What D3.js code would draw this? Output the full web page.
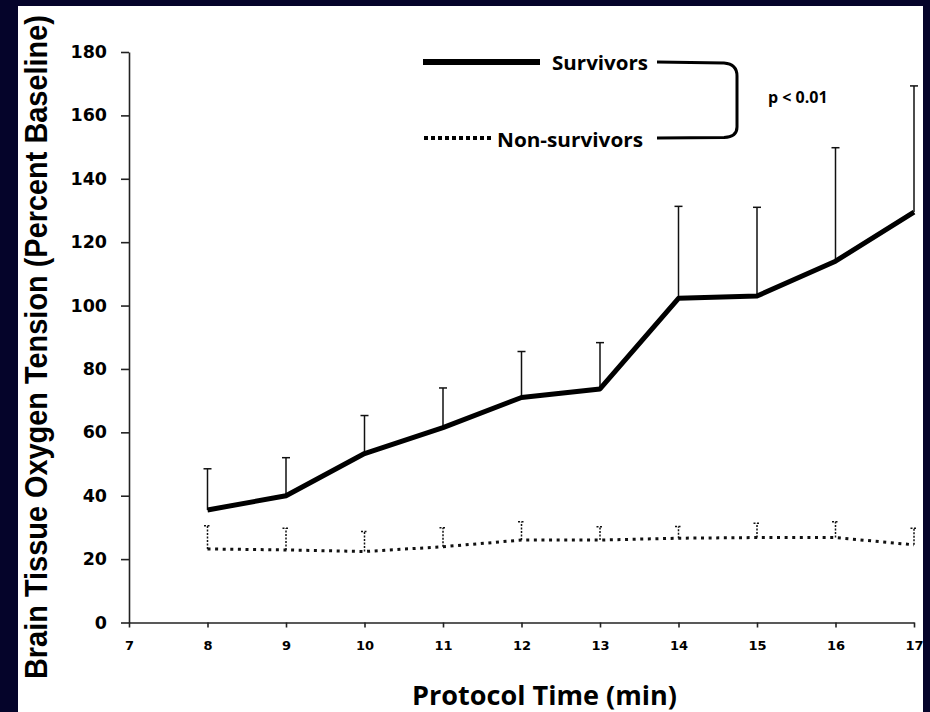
<!DOCTYPE html>
<html lang="en">
<head>
<meta charset="utf-8" />
<title>Brain Tissue Oxygen Tension</title>
<script src="https://cdn.jsdelivr.net/npm/d3@7"></script>
<style>
    body { margin: 0; background: #05042a; }
    svg { display: block; }
    .tick text { fill: #000; }
</style>
</head>
<body>
<svg id="canvas" width="930" height="712"></svg>
<script>
    // values
    var minutes = [8, 9, 10, 11, 12, 13, 14, 15, 16, 17];
    var survivors = [35.5, 40, 53.3, 61.5, 71, 73.7, 102.3, 103, 114, 129.5];
    var survivorsSD = [13, 12, 12, 12.5, 14.5, 14.6, 29, 28, 35.8, 39.8];
    var nonSurvivors = [23.2, 22.9, 22.4, 23.9, 26, 26, 26.6, 26.8, 26.8, 24.5];
    var nonSurvivorsSD = [7.3, 6.8, 6.3, 6, 5.8, 4.2, 3.7, 4.5, 5, 5.2];
    var xTicks = [7, 8, 9, 10, 11, 12, 13, 14, 15, 16, 17];
    var yTicks = [0, 20, 40, 60, 80, 100, 120, 140, 160, 180];

    var svg = d3.select("#canvas");

    // white panel on navy background
    svg.append("rect")
        .attr("x", 18).attr("y", 6)
        .attr("width", 905).attr("height", 706)
        .attr("fill", "#fff");

    var x = d3.scaleLinear().domain([7, 17]).range([129, 914]),
        y = d3.scaleLinear().domain([0, 180]).range([622.5, 52]);

    var surv = minutes.map(function (m, i) { return { m: m, v: survivors[i], sd: survivorsSD[i] }; });
    var non = minutes.map(function (m, i) { return { m: m, v: nonSurvivors[i], sd: nonSurvivorsSD[i] }; });

    // axes
    var yAxis = svg.append("g")
        .attr("transform", "translate(" + x(7) + ",0)")
        .call(d3.axisLeft(y).tickValues(yTicks).tickSize(8).tickSizeOuter(0).tickPadding(14));
    yAxis.selectAll("text")
        .style("font-family", "DejaVu Sans")
        .style("font-weight", "bold")
        .style("font-size", "17.5px");

    var xAxis = svg.append("g")
        .attr("transform", "translate(0," + y(0) + ")")
        .call(d3.axisBottom(x).tickValues(xTicks).tickSize(5).tickSizeOuter(0).tickPadding(13));
    xAxis.selectAll("text")
        .style("font-family", "DejaVu Sans")
        .style("font-weight", "bold")
        .style("font-size", "13px");
    svg.selectAll(".domain, .tick line").attr("stroke", "#222").attr("stroke-width", 1.6);

    // error bars (upper only)
    var cap = 4;
    var sBars = svg.append("g").selectAll("g").data(surv).enter().append("g");
    sBars.append("line")
        .attr("x1", function (d) { return x(d.m); })
        .attr("x2", function (d) { return x(d.m); })
        .attr("y1", function (d) { return y(d.v); })
        .attr("y2", function (d) { return y(d.v + d.sd); })
        .attr("stroke", "#111").attr("stroke-width", 1.5);
    sBars.append("line")
        .attr("x1", function (d) { return x(d.m) - cap; })
        .attr("x2", function (d) { return x(d.m) + cap; })
        .attr("y1", function (d) { return y(d.v + d.sd); })
        .attr("y2", function (d) { return y(d.v + d.sd); })
        .attr("stroke", "#111").attr("stroke-width", 1.5);

    var nBars = svg.append("g").selectAll("g").data(non).enter().append("g");
    nBars.append("line")
        .attr("x1", function (d) { return x(d.m); })
        .attr("x2", function (d) { return x(d.m); })
        .attr("y1", function (d) { return y(d.v); })
        .attr("y2", function (d) { return y(d.v + d.sd); })
        .attr("stroke", "#111").attr("stroke-width", 1.5)
        .attr("stroke-dasharray", "2,1.5");
    nBars.append("line")
        .attr("x1", function (d) { return x(d.m) - 3.5; })
        .attr("x2", function (d) { return x(d.m) + 3.5; })
        .attr("y1", function (d) { return y(d.v + d.sd); })
        .attr("y2", function (d) { return y(d.v + d.sd); })
        .attr("stroke", "#111").attr("stroke-width", 1.5)
        .attr("stroke-dasharray", "2,1.5");

    // series lines
    var line = d3.line()
        .x(function (d) { return x(d.m); })
        .y(function (d) { return y(d.v); });

    svg.append("path").datum(surv)
        .attr("d", line)
        .attr("fill", "none")
        .attr("stroke", "#000")
        .attr("stroke-width", 5)
        .attr("stroke-linejoin", "round");

    svg.append("path").datum(non)
        .attr("d", line)
        .attr("fill", "none")
        .attr("stroke", "#111")
        .attr("stroke-width", 3)
        .attr("stroke-dasharray", "3,4.6");

    // legend
    var legend = svg.append("g");
    legend.append("line")
        .attr("x1", 423).attr("x2", 540).attr("y1", 62).attr("y2", 62)
        .attr("stroke", "#000").attr("stroke-width", 6);
    legend.append("line")
        .attr("x1", 424).attr("x2", 491).attr("y1", 138).attr("y2", 138)
        .attr("stroke", "#000").attr("stroke-width", 4)
        .attr("stroke-dasharray", "4,3");
    legend.append("text")
        .attr("x", 552).attr("y", 69.5)
        .attr("textLength", 96).attr("lengthAdjust", "spacingAndGlyphs")
        .style("font-family", "Open Sans").style("font-weight", "bold").style("font-size", "20px")
        .text("Survivors");
    legend.append("text")
        .attr("x", 497).attr("y", 147)
        .attr("textLength", 146).attr("lengthAdjust", "spacingAndGlyphs")
        .style("font-family", "Open Sans").style("font-weight", "bold").style("font-size", "20px")
        .text("Non-survivors");
    legend.append("path")
        .attr("d", "M657,62 L724,63 Q737,64 737,76 L737,127 Q737,137 724,137.5 L657,138")
        .attr("fill", "none")
        .attr("stroke", "#000")
        .attr("stroke-width", 3);
    legend.append("text")
        .attr("x", 768).attr("y", 103)
        .style("font-family", "Open Sans").style("font-weight", "bold").style("font-size", "16px")
        .text("p < 0.01");

    // axis titles
    svg.append("text")
        .attr("x", 412).attr("y", 705)
        .attr("textLength", 265).attr("lengthAdjust", "spacingAndGlyphs")
        .style("font-family", "Open Sans").style("font-weight", "bold").style("font-size", "27px")
        .text("Protocol Time (min)");

    // y title is condensed in the original; squeeze it with a scale instead of textLength
    var yTitle = svg.append("text")
        .style("font-family", "Liberation Sans").style("font-weight", "bold").style("font-size", "31px")
        .text("Brain Tissue Oxygen Tension (Percent Baseline)");
    var sx = 664 / yTitle.node().getComputedTextLength();
    yTitle.attr("transform", "translate(47,679) rotate(-90) scale(" + sx + ",1)");
</script>
</body>
</html>
